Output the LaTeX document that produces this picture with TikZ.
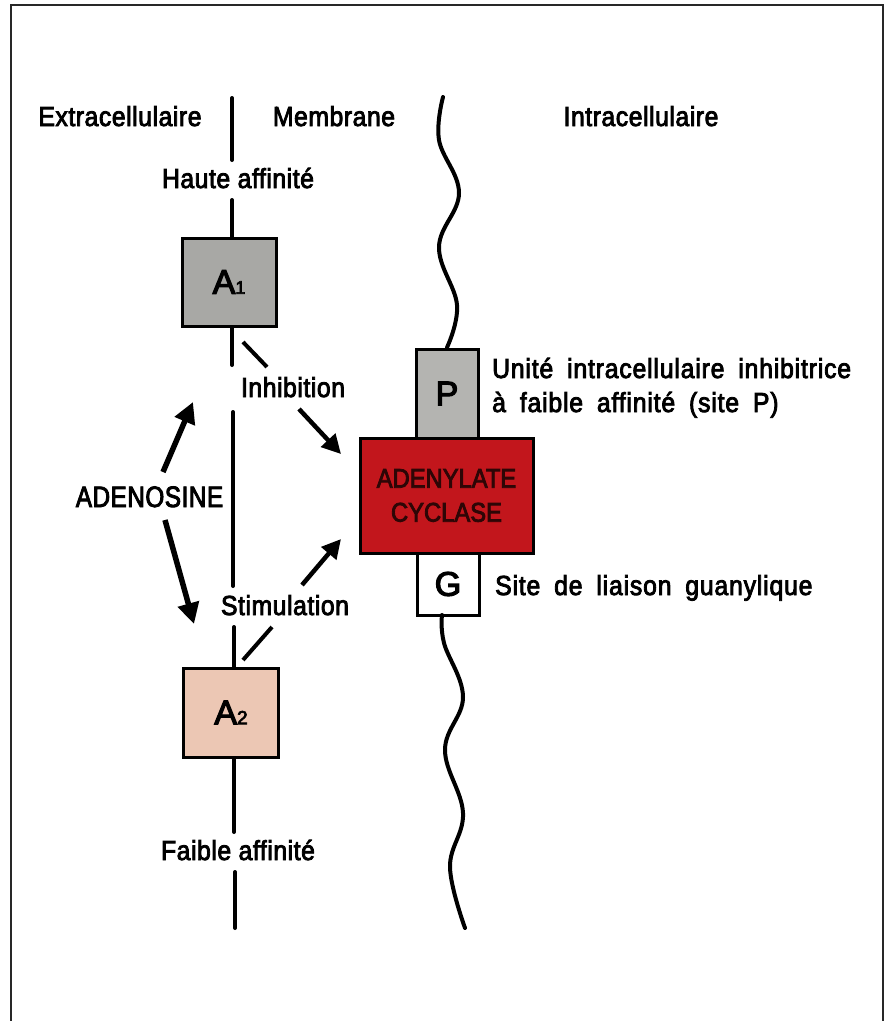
\documentclass[tikz,border=0pt]{standalone}
\usepackage{fontspec}
\setmainfont{Liberation Sans}
\newfontfamily\lblfont{Liberation Sans}[FakeStretch=0.9, FakeBold=3, LetterSpace=2]
\newfontfamily\widefont{Liberation Sans}[FakeStretch=0.9, FakeBold=3, LetterSpace=3, WordSpace=1.8]
\newfontfamily\condfont{Liberation Sans}[FakeStretch=0.82, FakeBold=3, LetterSpace=2]
\newfontfamily\acfont{Liberation Sans}[FakeStretch=0.88, FakeBold=3]
\newfontfamily\boxfont{Liberation Sans}[FakeBold=3.5]
\usetikzlibrary{arrows.meta}
\definecolor{framecol}{RGB}{40,40,40}
\definecolor{graybox}{RGB}{168,168,165}
\definecolor{pboxcol}{RGB}{180,180,177}
\definecolor{pinkbox}{RGB}{236,199,180}
\definecolor{acred}{RGB}{194,22,28}
\definecolor{actext}{RGB}{45,6,6}
\begin{document}
\begin{tikzpicture}[x=1pt,y=-1pt,
  lbl/.style={font=\lblfont\fontsize{27.5}{32}\selectfont, inner sep=0pt, anchor=base},
  wlbl/.style={font=\widefont\fontsize{27.5}{32}\selectfont, inner sep=0pt, anchor=base west},
  mem/.style={line width=4pt, line cap=round},
  boxst/.style={draw, line width=3pt, inner sep=0pt, font=\boxfont\fontsize{34}{40}\selectfont},
  bigarrow/.style={line width=5.5pt, -{Triangle[length=21pt,width=21pt]}},
  medarrow/.style={line width=4.5pt, -{Triangle[length=19pt,width=19pt]}},
  slash/.style={line width=4pt},
]
\useasboundingbox (0,0) rectangle (889,1021);
\fill[white] (0,0) rectangle (889,1021);
% frame
\draw[framecol, line width=2.5pt] (11,1021) -- (11,5) -- (883,5) -- (883,1021);

% headers
\node[lbl] (ext) at (120,126) {Extracellulaire};
\node[lbl] (memb) at (334,126) {Membrane};
\node[lbl] (intra) at (641,126) {Intracellulaire};

% boxes
\node[boxst, fill=graybox, minimum width=94pt, minimum height=88pt] (A1) at (229,282)
  {A{\fontsize{18}{20}\selectfont 1}};
\node[boxst, fill=pinkbox, minimum width=95pt, minimum height=89pt] (A2) at (231,712.5)
  {A{\fontsize{19}{20}\selectfont 2}};
\node[boxst, fill=pboxcol, minimum width=62pt, minimum height=89pt] (P) at (447,393.5) {P};
\node[boxst, fill=acred, minimum width=173pt, minimum height=115pt, align=center,
  text=actext, font=\acfont\fontsize{27}{34}\selectfont] (AC) at (446.5,495.5)
  {ADENYLATE\\CYCLASE};
\node[boxst, fill=white, minimum width=62pt, minimum height=62pt] (G) at (448,584) {G};

% membrane labels
\node[lbl] (haute) at (238,188) {Haute affinité};
\node[lbl] (inh) at (293,397) {Inhibition};
\node[lbl] (stim) at (285,615) {Stimulation};
\node[lbl] (faible) at (238,860) {Faible affinité};
\node[lbl, font=\condfont\fontsize{29.5}{34}\selectfont] (ado) at (149.5,507) {ADENOSINE};

% right labels
\node[wlbl] (unite1) at (492,378) {Unité intracellulaire inhibitrice};
\node[wlbl] (unite2) at (492,412) {à faible affinité (site P)};
\node[wlbl] (site) at (495,595) {Site de liaison guanylique};

% left membrane line
\coordinate (m0) at (232,98);
\coordinate (m1) at (232,160);
\coordinate (m2) at (232,200);
\coordinate (m3) at (232,365);
\coordinate (m4) at (233,412);
\coordinate (m5) at (233,586);
\coordinate (m6) at (234,627);
\coordinate (m7) at (234,832);
\coordinate (m8) at (235,872);
\coordinate (m9) at (235,928);
\draw[mem] (m0) -- (m1);
\draw[mem] (m2) -- (A1.north -| m2);
\draw[mem] (A1.south -| m3) -- (m3);
\draw[mem] (m4) -- (m5);
\draw[mem] (m6) -- (A2.north -| m6);
\draw[mem] (A2.south -| m7) -- (m7);
\draw[mem] (m8) -- (m9);

% inhibition / stimulation
\coordinate (i1) at (243,342);
\coordinate (i2) at (267,367);
\coordinate (i3) at (299,409);
\coordinate (i4) at (341,454);
\draw[slash] (i1) -- (i2);
\draw[medarrow] (i3) -- (i4);
\coordinate (s1) at (243,660);
\coordinate (s2) at (272,627);
\coordinate (s3) at (302,585);
\coordinate (s4) at (341,539);
\draw[slash] (s1) -- (s2);
\draw[medarrow] (s3) -- (s4);

% adenosine arrows
\coordinate (u1) at (163,472);
\coordinate (u2) at (193,402);
\coordinate (d1) at (165,520);
\coordinate (d2) at (194,624);
\draw[bigarrow] (u1) -- (u2);
\draw[bigarrow] (d1) -- (d2);

% wavy intracellular membrane
\draw[mem] plot[smooth, tension=0.65] coordinates
  {(443,97) (439,140) (459,193) (439,247) (457,305) (P.north)};
\draw[mem] plot[smooth, tension=0.65] coordinates
  {(442,615) (444,643) (463,697) (445,750) (463,813) (450,867) (465,928)};
\end{tikzpicture}
\end{document}
